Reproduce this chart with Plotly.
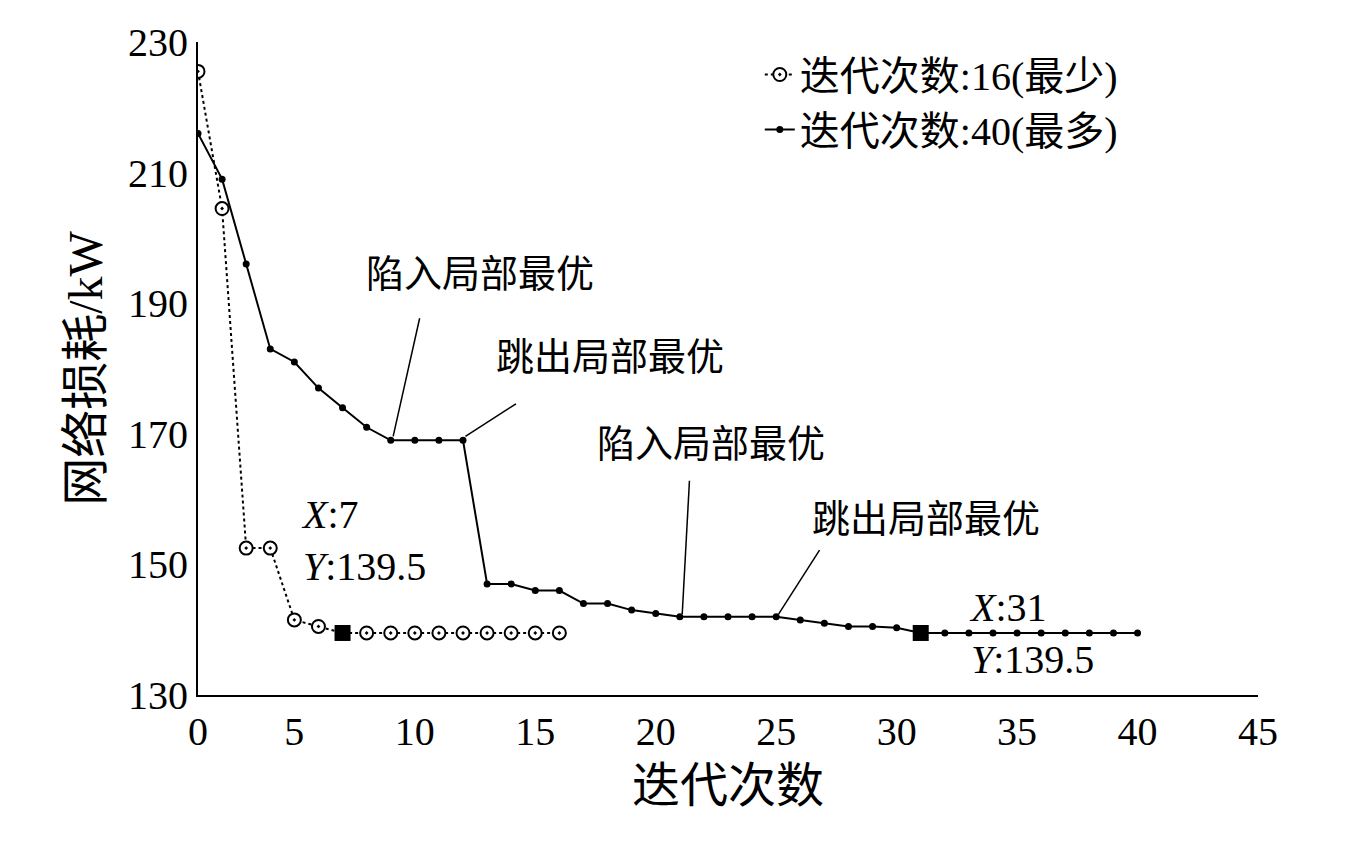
import plotly.graph_objects as go

x_min = list(range(1, 17))
y_min = [225.5, 204.5, 152.5, 152.5, 141.5, 140.5, 139.5, 139.5, 139.5, 139.5,
         139.5, 139.5, 139.5, 139.5, 139.5, 139.5]
x_max = list(range(1, 41))
y_max = [216, 209, 196, 183, 181, 177, 174, 171, 169, 169, 169, 169, 147, 147, 146, 146,
         144, 144, 143, 142.5, 142, 142, 142, 142, 142, 141.5, 141, 140.5, 140.5, 140.3,
         139.5, 139.5, 139.5, 139.5, 139.5, 139.5, 139.5, 139.5, 139.5, 139.5]
mark_x = [7, 31]
mark_y = [139.5, 139.5]
xtick_vals = [1, 5, 10, 15, 20, 25, 30, 35, 40, 45]
xtick_text = ["0", "5", "10", "15", "20", "25", "30", "35", "40", "45"]
ytick_vals = [130, 150, 170, 190, 210, 230]

FONT = "Liberation Serif, Noto Sans CJK SC"
fig = go.Figure()
fig.add_trace(go.Scatter(x=x_min, y=y_min, mode="lines+markers", name="迭代次数:16(最少)",
                         line=dict(color="black", width=2, dash="dot"),
                         marker=dict(symbol="circle-dot", size=13, color="white",
                                     line=dict(color="black", width=2))))
fig.add_trace(go.Scatter(x=x_max, y=y_max, mode="lines+markers", name="迭代次数:40(最多)",
                         line=dict(color="black", width=2),
                         marker=dict(symbol="circle", size=7, color="black")))
fig.add_trace(go.Scatter(x=mark_x, y=mark_y, mode="markers", showlegend=False,
                         marker=dict(symbol="square", size=16, color="black")))

anns = [
    dict(x0=9.1, y0=169.6, x1=10.2, y1=187.7, tx=12.7, ty=194.5, text="陷入局部最优"),
    dict(x0=12.1, y0=169.6, x1=14.2, y1=174.6, tx=18.1, ty=181.7, text="跳出局部最优"),
    dict(x0=21.1, y0=142.4, x1=21.4, y1=162.8, tx=22.3, ty=168.5, text="陷入局部最优"),
    dict(x0=25.1, y0=142.4, x1=26.8, y1=152.2, tx=31.2, ty=157.0, text="跳出局部最优"),
]
for a in anns:
    fig.add_shape(type="line", x0=a["x0"], y0=a["y0"], x1=a["x1"], y1=a["y1"],
                  line=dict(color="black", width=1.5))
    fig.add_annotation(x=a["tx"], y=a["ty"], text=a["text"], showarrow=False,
                       font=dict(size=38, color="black", family=FONT))
fig.add_annotation(x=5.2, y=153.7, xanchor="left", yanchor="middle", showarrow=False, align="left",
                   text="<i>X</i>:7<br><i>Y</i>:139.5", font=dict(size=40, color="black", family=FONT))
fig.add_annotation(x=32.9, y=139.4, xanchor="left", yanchor="middle", showarrow=False, align="left",
                   text="<i>X</i>:31<br><i>Y</i>:139.5", font=dict(size=40, color="black", family=FONT))

fig.update_layout(
    width=1359, height=844, plot_bgcolor="white", paper_bgcolor="white",
    margin=dict(l=190, r=109, t=25, b=157),
    font=dict(family=FONT, size=40, color="black"),
    legend=dict(x=0.53, y=1.0, xanchor="left", yanchor="top", bgcolor="rgba(0,0,0,0)",
                font=dict(size=40)),
    xaxis=dict(range=[1, 45], tickvals=xtick_vals, ticktext=xtick_text, showgrid=False,
               zeroline=False, showline=True, linecolor="black", linewidth=2, ticks="inside",
               ticklen=0, title=dict(text="迭代次数", standoff=15)),
    yaxis=dict(range=[130, 230], tickvals=ytick_vals, showgrid=False, zeroline=False,
               showline=True, linecolor="black", linewidth=2, ticks="inside", ticklen=0,
               title=dict(text="网络损耗/kW", standoff=10)),
)
fig.write_html("out.html")
